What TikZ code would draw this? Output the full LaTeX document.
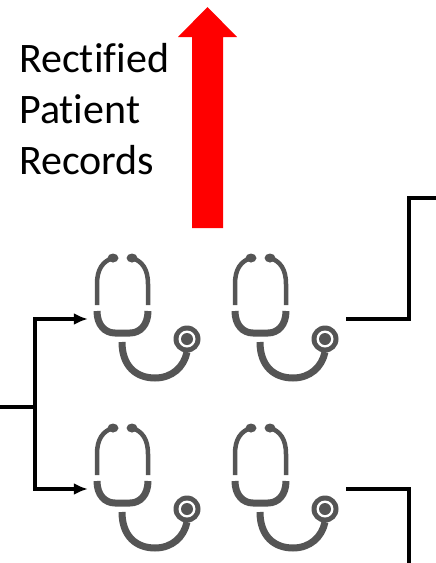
\documentclass[tikz,border=0pt]{standalone}
\usepackage{fontspec}
\setmainfont[Ligatures=NoCommon]{Carlito}
\usetikzlibrary{arrows.meta}
\definecolor{scopegray}{HTML}{555555}
\tikzset{
    link/.style={line width=3.5pt},
    tube/.style={draw=scopegray,line width=4.5pt},
    hose/.style={draw=scopegray,line width=7pt},
    scopebox/.style={minimum width=120pt,minimum height=130pt,inner sep=0pt},
    stethoscope/.pic={
        \draw[tube] (-51,-14) -- (-51,-35) .. controls (-51,-50) and (-45,-58) .. (-35,-61);
        \draw[tube] (0,-14) -- (0,-35) .. controls (0,-50) and (-6,-58) .. (-16,-61);
        \fill[scopegray] (-35,-61) ellipse (5.5pt and 4.5pt) (-16,-61) ellipse (5.5pt and 4.5pt);
        \draw[hose] (-51,-8) .. controls (-51,6) and (-43,14) .. (-33,14) -- (-18,14) .. controls (-8,14) and (0,6) .. (0,-8);
        \draw[hose] (-26,23) .. controls (-26,47) and (-12,59) .. (7,59) .. controls (24,59) and (36,48) .. (39,33);
        \fill[scopegray] (39,20) circle (13.5pt);
        \fill[white] (39,20) circle (8.5pt);
        \fill[scopegray] (39,20) circle (6pt);
    }
}
\begin{document}
\begin{tikzpicture}[x=1pt,y=-1pt]
    \useasboundingbox (0,0) rectangle (436,563);
    \node[anchor=base west,align=left,inner sep=0pt,font=\fontsize{42}{50.7}\selectfont] (records) at (19,174) {Rectified\\Patient\\Records};
    \fill[red] (207.5,7) -- (237,37) -- (223,37) -- (223,228) -- (192,228) -- (192,37) -- (178,37) -- cycle;
    \foreach \name/\x/\y in {scopeA/148/319,scopeB/286/319,scopeC/148/489,scopeD/286/489}{
        \node[scopebox] (\name) at (\x,\y) {};
        \pic at (\name) {stethoscope};
    }
    \coordinate (input) at (0,407);
    \coordinate (split) at (35,407);
    \coordinate (turnT) at (409,198);
    \coordinate (outT) at (436,198);
    \coordinate (outB) at (409,563);
    \draw[link] (input) -- (split);
    \draw[link,-{Latex[length=14pt,width=12pt]}] (split) |- (scopeA.west);
    \draw[link,-{Latex[length=14pt,width=12pt]}] (split) |- (scopeC.west);
    \draw[link] (scopeB.east) -| (turnT) -- (outT);
    \draw[link] (scopeD.east) -| (outB);
\end{tikzpicture}
\end{document}
